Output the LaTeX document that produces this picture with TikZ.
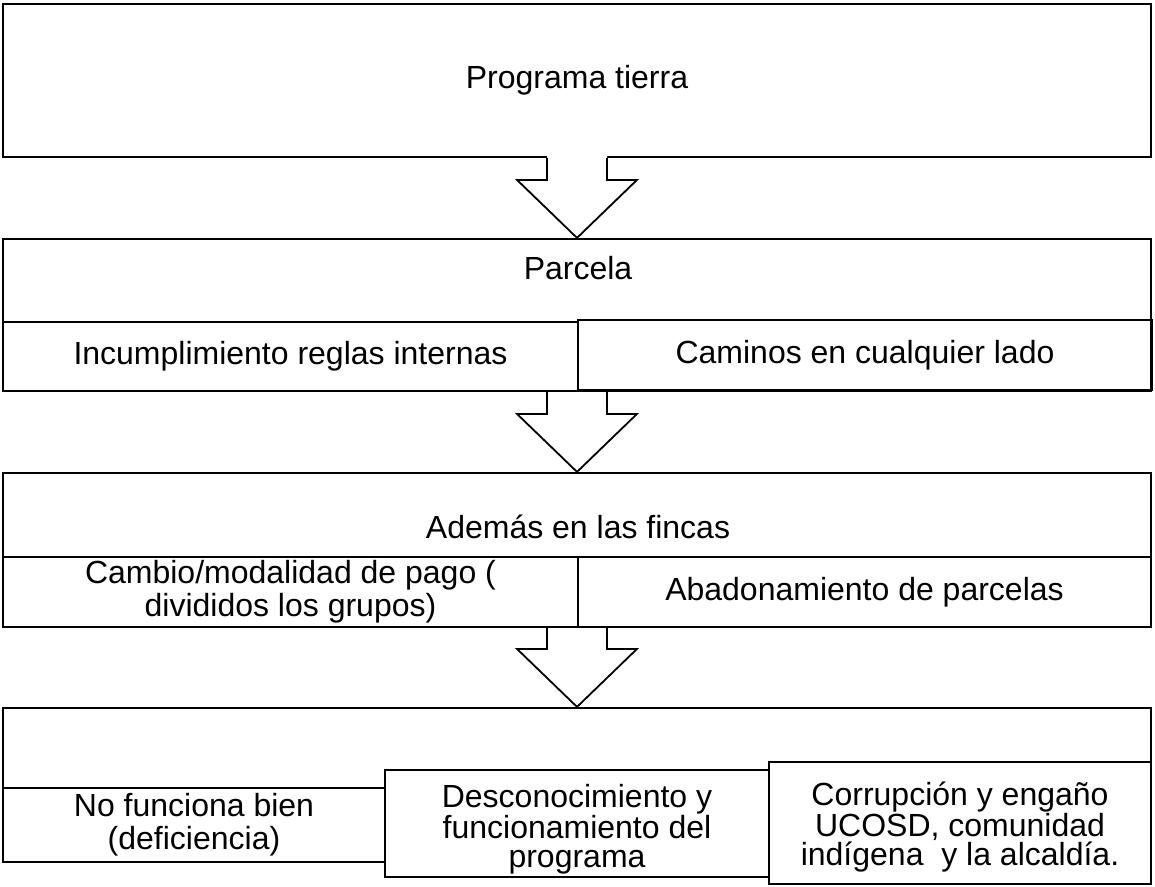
\documentclass[tikz,border=0pt]{standalone}
\usepackage{fontspec}
\setmainfont{Liberation Sans}
\usetikzlibrary{calc}
\def\flecha[#1](#2)(#3){%
  \fill[white] ($(#2)+(-30,#1)$) -- ($(#3)+(-30,-58)$) -- ($(#3)+(-60,-58)$) -- (#3) -- ($(#3)+(60,-58)$) -- ($(#3)+(30,-58)$) -- ($(#2)+(30,#1)$) -- cycle;
  \draw[line width=1.8pt] ($(#2)+(-30,0)$) -- ($(#3)+(-30,-58)$) -- ($(#3)+(-60,-58)$) -- (#3) -- ($(#3)+(60,-58)$) -- ($(#3)+(30,-58)$) -- ($(#2)+(30,0)$);}

\begin{document}
\begin{tikzpicture}[x=1pt, y=-1pt,
	texto/.style={inner sep=0pt, align=center, font=\fontsize{32}{33}\selectfont},
	caja/.style={texto, draw, line width=2.2pt}]
		%%%%% START %%%%%
		\useasboundingbox (0, 0) rectangle (1155, 886);
		
		\node[caja, minimum width=1148pt, minimum height=153pt] (prog) at (577, 80.5) {Programa tierra};
		
		\node[caja, minimum width=1148pt, minimum height=152pt] (parc) at (577, 315) {};
		\node[texto] (tparc) at (578, 268) {Parcela};
		\node[caja, minimum width=575pt, minimum height=69pt] (reglas) at (290.5, 356.5) {Incumplimiento reglas internas};
		\node[caja, minimum width=574pt, minimum height=70pt] (caminos) at (865, 355) {Caminos en cualquier lado};
		
		\node[caja, minimum width=1148pt, minimum height=154pt] (fincas) at (577, 550) {};
		\node[texto] (tfincas) at (578, 527) {Además en las fincas};
		\node[caja, minimum width=575pt, minimum height=70pt] (pago) at (290.5, 592) {Cambio/modalidad de pago (\\ divididos los grupos)};
		\node[caja, minimum width=573pt, minimum height=70pt] (abandono) at (864.5, 592) {Abadonamiento de parcelas};
		
		\node[caja, minimum width=1148pt, minimum height=154pt] (fallas) at (577, 785) {};
		\node[caja, minimum width=382pt, minimum height=74pt] (deficiencia) at (194, 825) {No funciona bien\\(deficiencia)};
		\node[caja, fill=white, minimum width=384pt, minimum height=107pt] (desconoc) at (577, 823.5) {};
		\node[texto, font=\fontsize{32}{29}\selectfont] (tdesconoc) at (577, 829) {Desconocimiento y\\funcionamiento del\\programa};
		\node[caja, fill=white, minimum width=382pt, minimum height=122pt] (corrupcion) at (960, 823) {};
		\node[texto, font=\fontsize{32}{29}\selectfont] (tcorrupcion) at (960, 827) {Corrupción y engaño\\UCOSD, comunidad\\indígena\ \ y la alcaldía.};
		
		\flecha[-2](prog.south)(parc.north)
		\flecha[1](parc.south)(fincas.north)
		\flecha[1](fincas.south)(fallas.north)
		%%%%% END %%%%%
	\end{tikzpicture}
\end{document}
